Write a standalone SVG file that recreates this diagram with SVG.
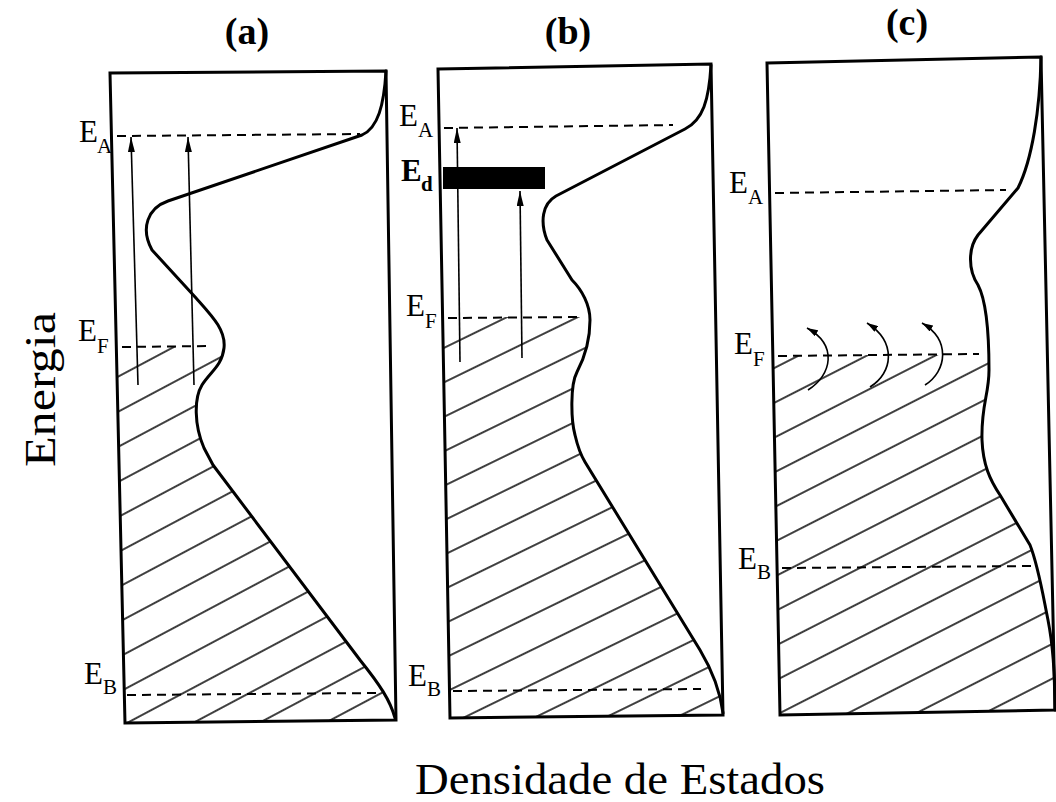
<svg xmlns="http://www.w3.org/2000/svg" width="1056" height="802" viewBox="0 0 1056 802">
<style>
.box{fill:none;stroke:#000;stroke-width:3;stroke-linejoin:miter}
.dos{fill:none;stroke:#000;stroke-width:3;stroke-linejoin:round;stroke-linecap:round}
.lev{fill:none;stroke:#000;stroke-width:2;stroke-dasharray:9 6}
.arr{fill:none;stroke:#000;stroke-width:1.6}
.lbl{font-family:"Liberation Serif","DejaVu Serif",serif;font-size:31px;fill:#000}
.sub{font-size:21px}
.ttl{font-family:"Liberation Serif","DejaVu Serif",serif;font-size:38px;font-weight:bold;fill:#000;text-anchor:middle}
.axis{font-family:"Liberation Serif","DejaVu Serif",serif;font-size:44px;fill:#000}
.hl{stroke:#000;stroke-width:1.6}
</style>
<defs>
<marker id="ah" viewBox="0 0 15 7" refX="15" refY="3.5" markerWidth="15" markerHeight="7" orient="auto" markerUnits="userSpaceOnUse"><path d="M0,0 L15,3.5 L0,7 Z" fill="#000"/></marker>
<marker id="ahs" viewBox="0 0 11 7" refX="11" refY="3.5" markerWidth="11" markerHeight="7" orient="auto" markerUnits="userSpaceOnUse"><path d="M0,0 L11,3.5 L0,7 Z" fill="#000"/></marker>
<pattern id="hA" patternUnits="userSpaceOnUse" width="400" height="31" patternTransform="translate(127,723) rotate(-28)"><line x1="-5" y1="0" x2="405" y2="0" class="hl"/><line x1="-5" y1="31" x2="405" y2="31" class="hl"/></pattern>
<pattern id="hB" patternUnits="userSpaceOnUse" width="400" height="31" patternTransform="translate(463,718) rotate(-26)"><line x1="-5" y1="0" x2="405" y2="0" class="hl"/><line x1="-5" y1="31" x2="405" y2="31" class="hl"/></pattern>
<pattern id="hC" patternUnits="userSpaceOnUse" width="400" height="31" patternTransform="translate(782,712) rotate(-27)"><line x1="-5" y1="0" x2="405" y2="0" class="hl"/><line x1="-5" y1="31" x2="405" y2="31" class="hl"/></pattern>
</defs>

<g id="titles">
<text class="ttl" x="247" y="44">(a)</text>
<text class="ttl" x="568" y="44">(b)</text>
<text class="ttl" x="907" y="35">(c)</text>
</g>

<g id="panel-a">
<path d="M116,347 L224,347 C222,366 210,372 202,385 C194,398 194,425 204,448 L213,465 L360,660 C380,685 390,700 395,718 L396,720 L125,723 Z" fill="url(#hA)"/>
<polygon class="box" points="110,73 386,71 396,720 125,723"/>
<path class="dos" d="M386,71 C384,105 378,128 362,135 L168,201 C148,208 140,228 152,250 L196,298 C212,316 226,330 224,348 C222,366 210,372 202,385 C194,398 194,425 204,448 L213,465 L360,660 C380,685 390,700 395,718"/>
<line class="lev" x1="117" y1="136" x2="360" y2="134"/>
<line class="lev" x1="122" y1="347" x2="210" y2="346"/>
<line class="lev" x1="127" y1="695" x2="378" y2="693"/>
<text class="lbl" x="79" y="142">E<tspan class="sub" x="97" y="153">A</tspan></text>
<text class="lbl" x="78" y="341">E<tspan class="sub" x="97" y="353">F</tspan></text>
<text class="lbl" x="84" y="684">E<tspan class="sub" x="103" y="694">B</tspan></text>
</g>

<g id="panel-b">
<path d="M442,317 L590,317 C590,340 586,355 577,372 C570,385 571,420 575,435 C578,448 582,457 585,462 L700,650 C712,670 720,690 723,713 L723,715 L450,718 Z" fill="url(#hB)"/>
<polygon class="box" points="438,69 711,64 723,715 450,718"/>
<path class="dos" d="M711,65 C709,100 703,120 685,129 L556,196 C542,204 540,222 547,240 L572,280 C582,290 590,305 590,320 C590,340 586,355 577,372 C570,385 571,420 575,435 C578,448 582,457 585,462 L700,650 C712,670 720,690 723,713"/>
<line class="lev" x1="444" y1="128" x2="673" y2="125"/>
<rect x="443" y="167" width="102" height="22" fill="#000"/>
<line class="lev" x1="448" y1="318" x2="583" y2="317"/>
<line class="lev" x1="453" y1="691" x2="701" y2="689"/>
<text class="lbl" x="399" y="126">E<tspan class="sub" x="418" y="137">A</tspan></text>
<text class="lbl" x="401" y="181" font-weight="bold">E<tspan class="sub" x="421" y="191">d</tspan></text>
<text class="lbl" x="406" y="316">E<tspan class="sub" x="425" y="328">F</tspan></text>
<text class="lbl" x="408" y="686">E<tspan class="sub" x="427" y="696">B</tspan></text>
</g>

<g id="panel-c">
<path d="M773,355 L989,355 L989,370 C989,395 981,405 982,440 C983,465 990,480 1000,495 L1030,545 C1038,565 1042,590 1048,620 C1054,650 1055,680 1055,710 L780,715 Z" fill="url(#hC)"/>
<polygon class="box" points="767,63 1041,57 1055,710 780,715"/>
<path class="dos" d="M1041,57 C1040,110 1032,160 1018,188 L978,235 C968,248 968,270 978,285 C986,300 989,330 989,370 C989,395 981,405 982,440 C983,465 990,480 1000,495 L1030,545 C1038,565 1042,590 1048,620 C1054,650 1055,680 1055,710"/>
<line class="lev" x1="775" y1="193" x2="1006" y2="190"/>
<line class="lev" x1="778" y1="356" x2="979" y2="354"/>
<line class="lev" x1="782" y1="568" x2="1034" y2="566"/>
<text class="lbl" x="729" y="193">E<tspan class="sub" x="748" y="204">A</tspan></text>
<text class="lbl" x="734" y="354">E<tspan class="sub" x="753" y="366">F</tspan></text>
<text class="lbl" x="738" y="569">E<tspan class="sub" x="757" y="579">B</tspan></text>
</g>

<g id="connectors">
<line class="arr" x1="138" y1="385" x2="131" y2="137" marker-end="url(#ah)"/>
<line class="arr" x1="194" y1="385" x2="188" y2="137" marker-end="url(#ah)"/>
<line class="arr" x1="460" y1="362" x2="457" y2="128" marker-end="url(#ah)"/>
<line class="arr" x1="522" y1="358" x2="520" y2="191" marker-end="url(#ah)"/>
<path class="arr" d="M808,390 C832,375 838,345 807,328" marker-end="url(#ahs)"/>
<path class="arr" d="M870,387 C893,373 897,342 867,323" marker-end="url(#ahs)"/>
<path class="arr" d="M925,385 C947,371 951,340 922,323" marker-end="url(#ahs)"/>
</g>

<g id="axes">
<text class="axis" transform="translate(55,467) rotate(-90)" textLength="155" lengthAdjust="spacingAndGlyphs">Energia</text>
<text class="axis" x="415" y="794" textLength="410" lengthAdjust="spacingAndGlyphs">Densidade de Estados</text>
</g>
</svg>
